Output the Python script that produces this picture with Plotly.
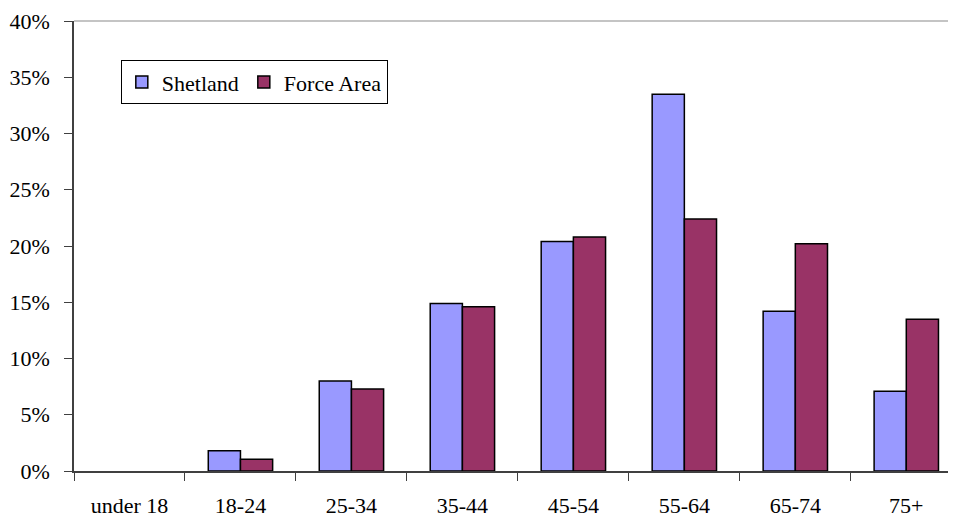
import plotly.graph_objects as go

categories = ["under 18", "18-24", "25-34", "35-44", "45-54", "55-64", "65-74", "75+"]
shetland = [None, 1.8, 8.0, 14.9, 20.4, 33.5, 14.2, 7.1]
force_area = [None, 1.05, 7.3, 14.6, 20.8, 22.4, 20.2, 13.5]
y_ticks = [0, 5, 10, 15, 20, 25, 30, 35, 40]
y_tick_labels = [f"{v}%" for v in y_ticks]

serif = "Liberation Serif, Times New Roman, serif"
font = dict(family=serif, size=22, color="black")

fig = go.Figure()
fig.add_trace(go.Bar(name="Shetland", x=categories, y=shetland,
                     marker=dict(color="#9999FF", line=dict(color="black", width=1.5))))
fig.add_trace(go.Bar(name="Force Area", x=categories, y=force_area,
                     marker=dict(color="#993366", line=dict(color="black", width=1.5))))

fig.update_layout(
    width=956, height=520,
    margin=dict(l=66, r=0, t=13, b=57),
    paper_bgcolor="white", plot_bgcolor="white",
    font=font,
    barmode="group", bargap=0.42, bargroupgap=0,
    showlegend=True,
    legend=dict(orientation="h", x=0.0526, y=0.913, xanchor="left", yanchor="top",
                bordercolor="black", borderwidth=1, bgcolor="white",
                font=dict(family=serif, size=22, color="black"),
                tracegroupgap=0),
    xaxis=dict(type="category", range=[-0.5, 7.52], showline=True, linecolor="#404040", linewidth=1.5,
               ticks="outside", tickson="boundaries", ticklen=8, tickcolor="#404040",
               ticklabelstandoff=14,
               showgrid=False, zeroline=False, tickfont=font),
    yaxis=dict(range=[0, 40], tickvals=y_ticks, ticktext=y_tick_labels,
               showline=True, linecolor="#404040", linewidth=1.5,
               ticks="outside", ticklen=8, tickcolor="#404040",
               ticklabelstandoff=10,
               showgrid=False, zeroline=False, tickfont=font),
    shapes=[dict(type="line", xref="paper", yref="paper", x0=0, x1=1, y0=1, y1=1,
                 line=dict(color="#b0b0b0", width=1.5))],
)

fig.write_html("out.html")
